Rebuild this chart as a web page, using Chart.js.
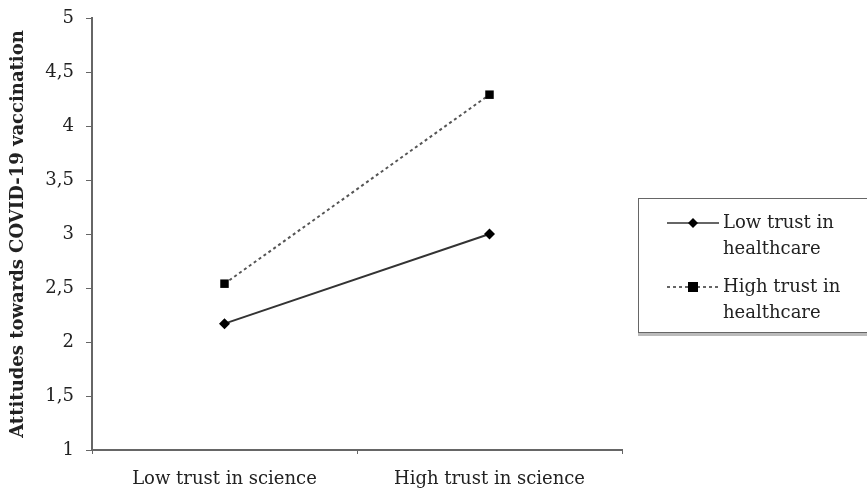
<!DOCTYPE html>
<html>
<head>
<meta charset="utf-8">
<script src="https://cdn.jsdelivr.net/npm/chart.js@4.4.1/dist/chart.umd.min.js"></script>
<style>
html,body{margin:0;padding:0;background:#fff;overflow:hidden;}
#wrap{position:relative;width:867px;height:492px;overflow:hidden;}
#legend{position:absolute;left:638px;top:198px;width:240px;height:135px;border:1px solid #666;box-shadow:0 3px 0 #bbb;background:#fff;font-family:"DejaVu Serif","Liberation Serif",serif;font-size:18px;color:#222;box-sizing:border-box;}
.item{position:absolute;left:27px;display:flex;align-items:flex-start;}
.item canvas{margin-top:6px;}
.item span{line-height:26px;margin-left:3px;}
</style>
</head>
<body>
<div id="wrap">
<canvas id="c" width="867" height="492"></canvas>
<div id="legend"></div>
</div>
<script>
const categories = ["Low trust in science", "High trust in science"];
const seriesNames = [["Low trust in", "healthcare"], ["High trust in", "healthcare"]];
const lowHealthcare = [2.17, 3.0];
const highHealthcare = [2.54, 4.29];
const yTicks = [1, 1.5, 2, 2.5, 3, 3.5, 4, 4.5, 5];
const yTitle = "Attitudes towards COVID-19 vaccination";

const serif = "'DejaVu Serif','Liberation Serif',serif";
const ink = "#222";

new Chart(document.getElementById('c'), {
  type: 'line',
  data: {
    labels: categories,
    datasets: [
      {label: seriesNames[0].join(' '), data: lowHealthcare, borderColor: '#333', backgroundColor: '#000',
       borderWidth: 2, pointStyle: 'rectRot', pointRadius: 5.5, pointBorderWidth: 0, tension: 0},
      {label: seriesNames[1].join(' '), data: highHealthcare, borderColor: '#555', backgroundColor: '#000',
       borderWidth: 2, borderDash: [3, 3], pointStyle: 'rect', pointRadius: 6, pointBorderWidth: 0, tension: 0}
    ]
  },
  options: {
    responsive: false,
    animation: false,
    layout: {padding: {left: 8, top: 18, right: 245, bottom: 0}},
    plugins: {legend: {display: false}, tooltip: {enabled: false}},
    scales: {
      x: {
        offset: true,
        grid: {offset: true, drawOnChartArea: false, drawTicks: true, tickLength: 4, color: '#666', lineWidth: 1},
        border: {display: true, color: '#666', width: 2},
        ticks: {color: ink, font: {family: serif, size: 18}, padding: 15},
        afterFit: s => { s.height = 42; }
      },
      y: {
        min: 1, max: 5,
        afterBuildTicks: s => { s.ticks = yTicks.map(v => ({value: v})); },
        grid: {drawOnChartArea: false, drawTicks: true, tickLength: 6, color: '#666', lineWidth: 1},
        border: {display: true, color: '#666', width: 2},
        ticks: {color: ink, font: {family: serif, size: 18, lineHeight: 1.2}, padding: 12,
                callback: v => String(v).replace('.', ',')},
        title: {display: true, text: yTitle, color: ink, font: {family: serif, size: 18, weight: 'bold'}, padding: {top: 0, bottom: 2}},
        afterFit: s => { s.width = 84; s.paddingTop = 0; }
      }
    }
  }
});

// HTML legend (real text)
const legend = document.getElementById('legend');
const styles = [{dash: [], marker: 'diamond'}, {dash: [3, 3], marker: 'square'}];
seriesNames.forEach((name, i) => {
  const item = document.createElement('div');
  item.className = 'item';
  item.style.top = (i === 0 ? 10 : 74) + 'px';
  const cv = document.createElement('canvas');
  cv.width = 54; cv.height = 16;
  const g = cv.getContext('2d');
  g.strokeStyle = '#333'; g.lineWidth = 1.5; g.setLineDash(styles[i].dash);
  g.beginPath(); g.moveTo(1, 8); g.lineTo(53, 8); g.stroke();
  g.fillStyle = '#000';
  if (styles[i].marker === 'diamond') {
    g.beginPath(); g.moveTo(27, 3); g.lineTo(32, 8); g.lineTo(27, 13); g.lineTo(22, 8); g.closePath(); g.fill();
  } else {
    g.fillRect(22, 3, 10, 10);
  }
  const sp = document.createElement('span');
  sp.innerHTML = name[0] + '<br>' + name[1];
  item.appendChild(cv); item.appendChild(sp);
  legend.appendChild(item);
});
</script>
</body>
</html>
